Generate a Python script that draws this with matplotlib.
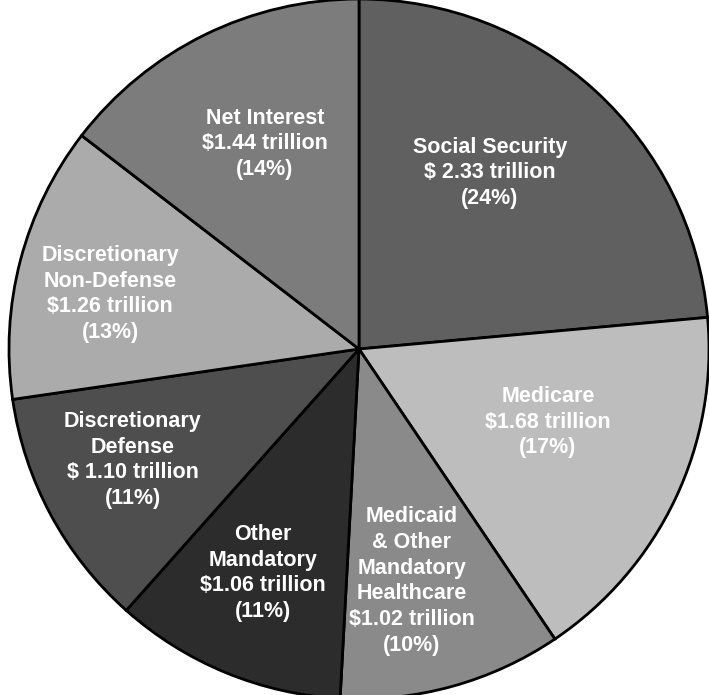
import matplotlib
matplotlib.use("Agg")
import matplotlib.pyplot as plt

# spending categories, clockwise from 12 o'clock
names = ["Social Security", "Medicare", "Medicaid\n& Other\nMandatory\nHealthcare",
         "Other\nMandatory", "Discretionary\nDefense", "Discretionary\nNon-Defense",
         "Net Interest"]
trillions = [2.33, 1.68, 1.02, 1.06, 1.10, 1.26, 1.44]
money = ["$ 2.33", "$1.68", "$1.02", "$1.06", "$ 1.10", "$1.26", "$1.44"]
shares = [24, 17, 10, 11, 11, 13, 14]

grays = ["#606060", "#bdbdbd", "#8a8a8a", "#2c2c2c", "#4e4e4e", "#ababab", "#7c7c7c"]
# label centres in data units (pie radius = 1)
label_xy = [(0.374, 0.503), (0.54, -0.209), (0.151, -0.663), (-0.274, -0.64),
            (-0.646, -0.317), (-0.711, 0.157), (-0.269, 0.586)]

plt.rcParams["font.family"] = ["Liberation Sans", "DejaVu Sans"]

fig = plt.figure(figsize=(7.09, 6.95), dpi=100)
ax = fig.add_axes([0, 0, 1, 1])
ax.axis("off")

wedges, _ = ax.pie(trillions, colors=grays, startangle=90, counterclock=False,
                   radius=1.0, center=(0, 0),
                   wedgeprops=dict(edgecolor="black", linewidth=2))

for i, (x, y) in enumerate(label_xy):
    txt = f"{names[i]}\n{money[i]} trillion\n({shares[i]}%)"
    ax.text(x, y, txt, ha="center", va="center", color="white",
            fontsize=15.5, fontweight="bold", linespacing=1.3)

# 350 px per unit in both directions, centre at pixel (359, 349)
ax.set_xlim(-359 / 350, (709 - 359) / 350)
ax.set_ylim(-(695 - 349) / 350, 349 / 350)
ax.set_aspect("auto")

fig.savefig("out.png", dpi=100, facecolor="white")
